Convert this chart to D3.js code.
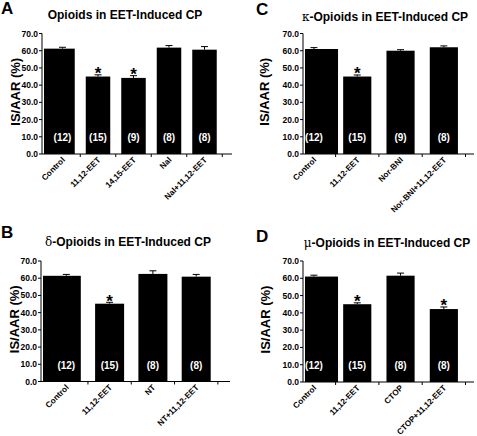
<!DOCTYPE html>
<html><head><meta charset="utf-8">
<script src="https://cdn.jsdelivr.net/npm/d3@7"></script>
<style>
html,body{margin:0;padding:0;background:#fff;}
svg text{font-family:Arial,"Liberation Sans",sans-serif;font-weight:bold;fill:#000;}
</style></head>
<body>
<svg id="chart" width="477" height="436"></svg>
<script>
// ---------- DATA ----------
const yTicks = [0, 10, 20, 30, 40, 50, 60, 70];
const yAxisTitle = "IS/AAR (%)";

const lettersList = ["A", "B", "C", "D"];
const greekPrefix = ["", "δ", "κ", "μ"];
const titleRest = ["Opioids in EET-Induced CP", "-Opioids in EET-Induced CP", "-Opioids in EET-Induced CP", "-Opioids in EET-Induced CP"];

const catsA = ["Control", "11,12-EET", "14,15-EET", "Nal", "Nal+11,12-EET"];
const valsA = [61.2, 45.0, 44.2, 61.8, 60.6];
const errsA = [0.8, 1.0, 1.3, 1.2, 1.8];
const nA = ["(12)", "(15)", "(9)", "(8)", "(8)"];
const sigA = [false, true, true, false, false];

const catsB = ["Control", "11,12-EET", "NT", "NT+11,12-EET"];
const valsB = [61.4, 45.2, 62.5, 60.9];
const errsB = [0.8, 0.8, 1.8, 1.3];
const nB = ["(12)", "(15)", "(8)", "(8)"];
const sigB = [false, true, false, false];

const catsC = ["Control", "11,12-EET", "Nor-BNI", "Nor-BNI+11,12-EET"];
const valsC = [61.0, 45.0, 60.0, 62.0];
const errsC = [0.8, 0.9, 0.6, 0.8];
const nC = ["(12)", "(15)", "(9)", "(8)"];
const sigC = [false, true, false, false];

const catsD = ["Control", "11,12-EET", "CTOP", "CTOP+11,12-EET"];
const valsD = [61.0, 45.0, 61.5, 42.2];
const errsD = [0.8, 0.8, 1.5, 1.2];
const nD = ["(12)", "(15)", "(8)", "(8)"];
const sigD = [false, true, false, true];

// ---------- LAYOUT (geometry only) ----------
const layouts = [
  {axisX: 42, axisEnd: 232, yTop: 33.5, yBot: 154, band: [44.75, 222.25], bw: 0.69, extraR: 0,
   titleX: 125, titleY: 19, letX: 1, letY: 14, yTitleX: 20},
  {axisX: 41, axisEnd: 230, yTop: 261, yBot: 381.5, band: [44.65, 217.85], bw: 0.67, extraR: 0,
   titleX: 128, titleY: 245.5, letX: 1, letY: 238, yTitleX: 19},
  {axisX: 303, axisEnd: 474, yTop: 33.5, yBot: 154, band: [292.3, 465.5], bw: 0.65, extraR: 10,
   titleX: 385, titleY: 21, letX: 256, letY: 15, yTitleX: 269},
  {axisX: 303, axisEnd: 474, yTop: 261, yBot: 382, band: [292.3, 465.5], bw: 0.65, extraR: 10,
   titleX: 387, titleY: 247, letX: 256, letY: 242, yTitleX: 270}
];

const panels = [
  {cats: catsA, vals: valsA, errs: errsA, ns: nA, sig: sigA},
  {cats: catsB, vals: valsB, errs: errsB, ns: nB, sig: sigB},
  {cats: catsC, vals: valsC, errs: errsC, ns: nC, sig: sigC},
  {cats: catsD, vals: valsD, errs: errsD, ns: nD, sig: sigD}
];

const svg = d3.select("#chart");

panels.forEach((p, pi) => {
  const L = layouts[pi];
  const g = svg.append("g");
  const y = d3.scaleLinear().domain([0, 70]).range([L.yBot, L.yTop]);
  const pad = 1 - L.bw;
  const x = d3.scaleBand().domain(p.cats).range(L.band).paddingInner(pad).paddingOuter(pad / 2);

  // letter
  g.append("text").attr("x", L.letX).attr("y", L.letY).attr("font-size", 17).text(lettersList[pi]);
  // title
  const t = g.append("text").attr("x", L.titleX).attr("y", L.titleY).attr("text-anchor", "middle").attr("font-size", 12);
  if (greekPrefix[pi]) t.append("tspan").attr("font-weight", "normal").attr("font-family", "'DejaVu Serif', serif").attr("font-size", 12).text(greekPrefix[pi]);
  t.append("tspan").text(titleRest[pi]);

  // y axis title
  g.append("text").attr("transform", `translate(${L.yTitleX},${(L.yTop + L.yBot) / 2 - 2}) rotate(-90)`)
    .attr("text-anchor", "middle").attr("font-size", 13).text(yAxisTitle);

  // bars
  const clipLeft = L.axisX + 2;
  g.selectAll("rect.bar").data(p.cats).join("rect").attr("class", "bar")
    .attr("x", (c, i) => i === 0 ? clipLeft : x(c))
    .attr("width", (c, i) => i === 0 ? x(c) + x.bandwidth() + L.extraR - clipLeft : x.bandwidth())
    .attr("y", (c, i) => y(p.vals[i]))
    .attr("height", (c, i) => y(0) - y(p.vals[i]))
    .attr("fill", "#000");

  // error bars
  const capW = 3.5;
  p.cats.forEach((c, i) => {
    const cx = x(c) + x.bandwidth() / 2;
    const top = y(p.vals[i] + p.errs[i]);
    g.append("line").attr("x1", cx).attr("x2", cx).attr("y1", y(p.vals[i])).attr("y2", top).attr("stroke", "#000").attr("stroke-width", 1);
    g.append("line").attr("x1", cx - capW).attr("x2", cx + capW).attr("y1", top).attr("y2", top).attr("stroke", "#000").attr("stroke-width", 1);
    if (p.sig[i]) {
      g.append("text").attr("x", cx).attr("y", top + 4.5).attr("text-anchor", "middle").attr("font-size", 17).text("*");
    }
    // n labels
    g.append("text").attr("x", cx).attr("y", L.yBot - 13).attr("text-anchor", "middle")
      .attr("font-size", 10).style("fill", "#fff").text(p.ns[i]);
    // x labels
    g.append("text").attr("transform", `translate(${cx + 3},${L.yBot + 6.5}) rotate(-45)`)
      .attr("text-anchor", "end").attr("font-size", 8.2).text(c);
  });

  // y axis
  g.append("line").attr("x1", L.axisX).attr("x2", L.axisX).attr("y1", L.yTop).attr("y2", L.yBot).attr("stroke", "#000");
  yTicks.forEach(v => {
    g.append("line").attr("x1", L.axisX - 3).attr("x2", L.axisX).attr("y1", y(v)).attr("y2", y(v)).attr("stroke", "#000");
    g.append("text").attr("x", L.axisX - 4).attr("y", y(v) + 3).attr("text-anchor", "end").attr("font-size", 8.5).text(v.toFixed(1));
  });
  // x axis
  g.append("line").attr("x1", L.axisX).attr("x2", L.axisEnd).attr("y1", L.yBot).attr("y2", L.yBot).attr("stroke", "#000");
  p.cats.forEach((c, i) => {
    const bx = x(c) + x.bandwidth() + x.step() * pad / 2;
    g.append("line").attr("x1", bx).attr("x2", bx).attr("y1", L.yBot).attr("y2", L.yBot + 3).attr("stroke", "#000");
  });
});
</script>
</body></html>
